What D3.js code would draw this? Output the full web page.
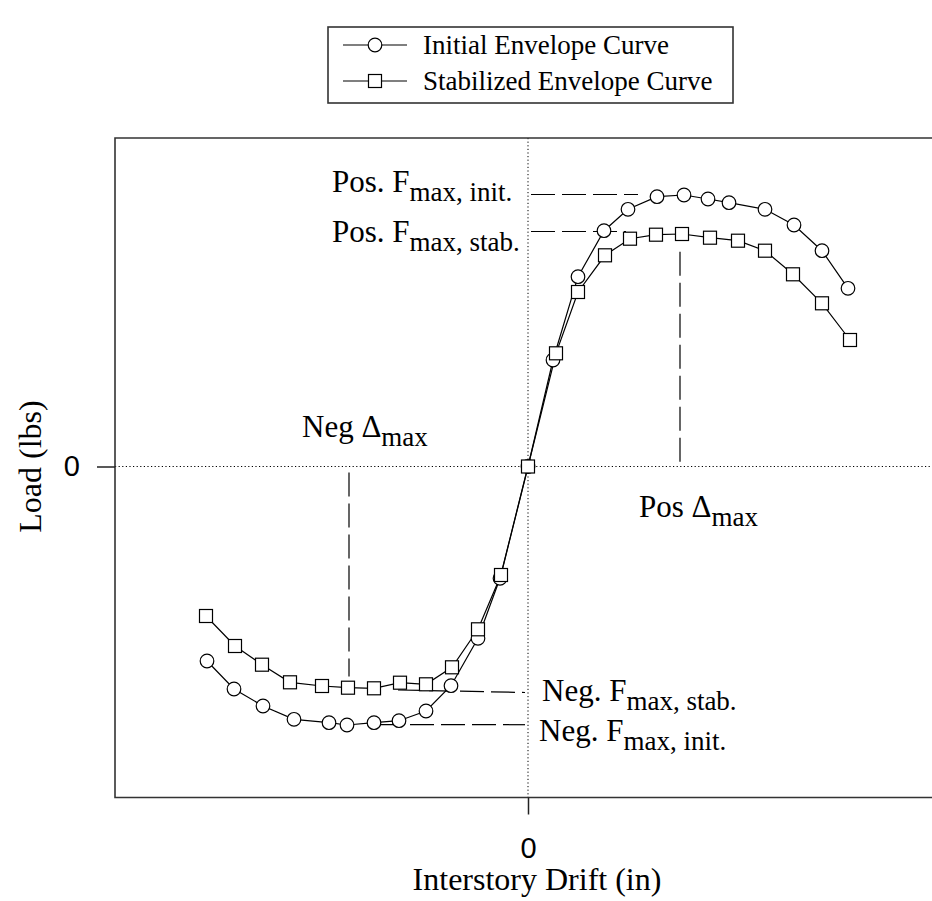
<!DOCTYPE html>
<html lang="en">

<head>
  <meta charset="UTF-8">
  <title>Envelope Curves</title>
  <script src="https://d3js.org/d3.v7.min.js"></script>
  <style>
    body {
      margin: 0;
      background: #fff;
    }

    svg {
      display: block;
    }

    .serif {
      font-family: "Liberation Serif", "Times New Roman", serif;
      fill: #000;
    }

    .tick text {
      font-family: "Liberation Sans", Arial, sans-serif;
      font-size: 29px;
      fill: #000;
    }

    .tick line {
      stroke: #222;
      stroke-width: 1.5px;
    }

    .series {
      fill: none;
      stroke: #000;
      stroke-width: 1.2px;
    }

    .marker {
      fill: #fff;
      stroke: #000;
      stroke-width: 1.2px;
    }

    .ref {
      fill: none;
      stroke: #000;
      stroke-width: 1.2px;
      stroke-dasharray: 24, 7;
    }

    .zero {
      stroke: #000;
      stroke-width: 1px;
      stroke-dasharray: 1.2, 2.4;
    }
  </style>
</head>

<body>
  <svg id="chart"></svg>
  <script>
    // drift (in) and load (lbs)
    const initDrift = [-3.21, -2.94, -2.65, -2.34, -1.99, -1.81, -1.54, -1.29, -1.02, -0.77, -0.50, -0.28, 0,
      0.25, 0.50, 0.76, 1.00, 1.29, 1.56, 1.80, 2.01, 2.37, 2.66, 2.94, 3.20];
    const initLoad = [-1945, -2225, -2395, -2528, -2562, -2585, -2562, -2542, -2445, -2192, -1718, -1118, 0,
      1065, 1898, 2358, 2572, 2698, 2715, 2675, 2638, 2572, 2415, 2158, 1782];

    const stabDrift = [-3.22, -2.93, -2.66, -2.38, -2.06, -1.80, -1.54, -1.28, -1.02, -0.76, -0.50, -0.27, 0,
      0.28, 0.50, 0.77, 1.02, 1.28, 1.54, 1.82, 2.10, 2.37, 2.65, 2.94, 3.22];
    const stabLoad = [-1495, -1795, -1982, -2158, -2195, -2212, -2218, -2162, -2178, -2008, -1628, -1085, 0,
      1132, 1745, 2112, 2278, 2318, 2325, 2288, 2258, 2158, 1922, 1632, 1265];

    // reference values marked by dashed lines
    const posFmaxInit = 2720;
    const posFmaxStab = 2350;
    const negFmaxStab = -2260;
    const negFmaxInit = -2582;
    const posDmax = 1.52;
    const negDmax = -1.79;

    const xTicks = [0];
    const yTicks = [0];

    const width = 932;
    const height = 901;
    const plot = { left: 115, top: 138, right: 932, bottom: 797.5 };

    const svg = d3.select("#chart")
      .attr("width", width)
      .attr("height", height);

    const x = d3.scaleLinear().domain([-4.13, 4.04]).range([plot.left, plot.right]);
    const y = d3.scaleLinear().domain([-3310, 3285]).range([plot.bottom, plot.top]);

    // zero lines (dotted)
    svg.append("line").attr("class", "zero")
      .attr("x1", x(0)).attr("x2", x(0))
      .attr("y1", plot.top).attr("y2", plot.bottom);
    svg.append("line").attr("class", "zero")
      .attr("x1", plot.left).attr("x2", plot.right)
      .attr("y1", y(0)).attr("y2", y(0));

    // dashed reference lines
    const refs = [
      [[0.03, posFmaxInit], [1.10, posFmaxInit]],
      [[0.03, posFmaxStab], [0.98, posFmaxStab]],
      [[posDmax, 2148], [posDmax, 0]],
      [[negDmax, -60], [negDmax, -2100]],
      [[-1.30, negFmaxStab + 25], [-0.03, negFmaxStab]],
      [[-1.49, negFmaxInit], [-0.03, negFmaxInit]]
    ];
    svg.selectAll(".ref")
      .data(refs)
      .enter().append("path")
      .attr("class", "ref")
      .attr("d", d => d3.line().x(p => x(p[0])).y(p => y(p[1]))(d));

    // series
    const initPts = initDrift.map((d, i) => [d, initLoad[i]]);
    const stabPts = stabDrift.map((d, i) => [d, stabLoad[i]]);
    const line = d3.line().x(d => x(d[0])).y(d => y(d[1]));

    svg.append("path").attr("class", "series").attr("d", line(initPts));
    svg.append("path").attr("class", "series").attr("d", line(stabPts));

    svg.selectAll(".circ")
      .data(initPts)
      .enter().append("circle")
      .attr("class", "marker circ")
      .attr("cx", d => x(d[0]))
      .attr("cy", d => y(d[1]))
      .attr("r", 6.8);

    svg.selectAll(".sq")
      .data(stabPts)
      .enter().append("rect")
      .attr("class", "marker sq")
      .attr("x", d => x(d[0]) - 6.5)
      .attr("y", d => y(d[1]) - 6.5)
      .attr("width", 13)
      .attr("height", 13);

    // plot frame (right side runs off the page)
    svg.append("path")
      .attr("d", `M${plot.right + 5},${plot.top}H${plot.left}V${plot.bottom}H${plot.right + 5}`)
      .attr("fill", "none")
      .attr("stroke", "#333")
      .attr("stroke-width", 1.6);

    // axes with only the zero tick
    const xAxis = svg.append("g")
      .attr("transform", `translate(0,${plot.bottom})`)
      .call(d3.axisBottom(x).tickValues(xTicks).tickFormat(d3.format("d")).tickSize(17).tickPadding(23));
    xAxis.select(".domain").remove();

    const yAxis = svg.append("g")
      .attr("transform", `translate(${plot.left},0)`)
      .call(d3.axisLeft(y).tickValues(yTicks).tickFormat(d3.format("d")).tickSize(18).tickPadding(17));
    yAxis.select(".domain").remove();

    // axis titles
    svg.append("text").attr("class", "serif")
      .attr("x", 537).attr("y", 890)
      .attr("text-anchor", "middle")
      .style("font-size", "32px")
      .text("Interstory Drift (in)");

    svg.append("text").attr("class", "serif")
      .attr("transform", `translate(41,${y(0)}) rotate(-90)`)
      .attr("text-anchor", "middle")
      .style("font-size", "32px")
      .text("Load (lbs)");

    // annotation labels: main text + subscript
    const labels = [
      { main: "Pos. F", sub: "max, init.", x: 332, y: 192 },
      { main: "Pos. F", sub: "max, stab.", x: 332, y: 242 },
      { main: "Neg \u0394", sub: "max", x: 302, y: 437 },
      { main: "Pos \u0394", sub: "max", x: 639, y: 517 },
      { main: "Neg. F", sub: "max, stab.", x: 542, y: 701 },
      { main: "Neg. F", sub: "max, init.", x: 539, y: 741 }
    ];
    const lab = svg.selectAll(".lab")
      .data(labels)
      .enter().append("text")
      .attr("class", "serif lab")
      .attr("x", d => d.x)
      .attr("y", d => d.y)
      .style("font-size", "31px");
    lab.append("tspan").text(d => d.main);
    lab.append("tspan")
      .attr("dy", 9)
      .style("font-size", "27px")
      .text(d => d.sub);

    // legend
    const legend = svg.append("g");
    legend.append("rect")
      .attr("x", 328).attr("y", 27)
      .attr("width", 405).attr("height", 76)
      .attr("fill", "#fff")
      .attr("stroke", "#333")
      .attr("stroke-width", 1.6);

    const legendItems = ["Initial Envelope Curve", "Stabilized Envelope Curve"];
    legendItems.forEach((name, i) => {
      const ly = 45 + i * 36;
      legend.append("line")
        .attr("x1", 343).attr("x2", 407)
        .attr("y1", ly).attr("y2", ly)
        .attr("stroke", "#000").attr("stroke-width", 1.2);
      if (i === 0) {
        legend.append("circle").attr("class", "marker")
          .attr("cx", 375).attr("cy", ly).attr("r", 6.8);
      } else {
        legend.append("rect").attr("class", "marker")
          .attr("x", 375 - 6.5).attr("y", ly - 6.5)
          .attr("width", 13).attr("height", 13);
      }
      legend.append("text").attr("class", "serif")
        .attr("x", 423).attr("y", ly + 9)
        .style("font-size", "27px")
        .text(name);
    });
  </script>
</body>

</html>
